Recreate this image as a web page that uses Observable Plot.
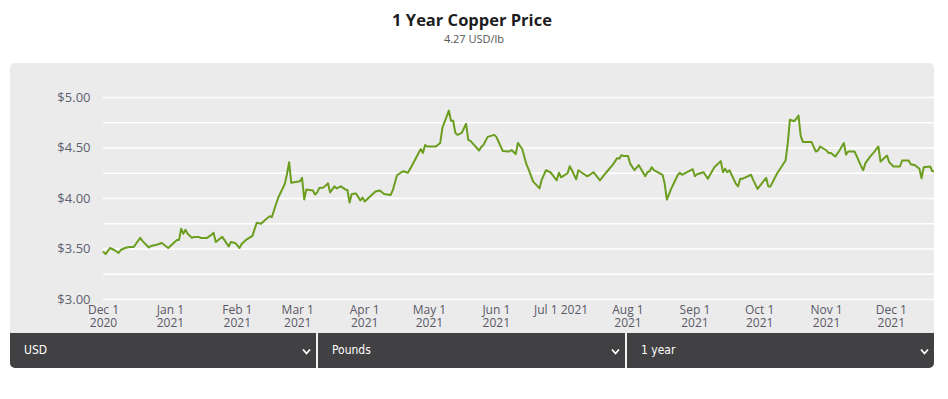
<!DOCTYPE html>
<html>
<head>
<meta charset="utf-8">
<script src="https://cdn.jsdelivr.net/npm/d3@7"></script>
<script src="https://cdn.jsdelivr.net/npm/@observablehq/plot@0.6"></script>
<style>
  html, body { margin: 0; padding: 0; background: #fff; }
  body { width: 948px; height: 399px; position: relative; font-family: "Open Sans", sans-serif; overflow: hidden; }
  #title { position: absolute; left: 0; top: 10px; width: 944px; text-align: center; font-size: 16.5px; font-weight: 700; color: #1d1d1f; line-height: 20px; }
  #subtitle { position: absolute; left: 0; top: 32px; width: 948px; text-align: center; font-size: 11px; color: #555; line-height: 14px; }
  #panel { position: absolute; left: 10px; top: 63px; width: 924px; height: 305px; background: #ebebeb; border-radius: 5px; overflow: hidden; }
  #chart { position: absolute; left: 0; top: 0; }
  #bar { position: absolute; left: 0; top: 270px; width: 924px; height: 35px; background: #414042; display: flex; }
  .sel { position: relative; height: 35px; color: #fff; font-family: "Liberation Sans Narrow", "DejaVu Sans Condensed", sans-serif; font-size: 12px; line-height: 35px; box-sizing: border-box; }
  .sel span.lab { position: absolute; left: 14px; }
  .sel svg.chev { position: absolute; right: 5px; top: 15px; }
  .sep { width: 2px; height: 35px; background: #f2f2f2; }
</style>
</head>
<body>
<div id="title">1 Year Copper Price</div>
<div id="subtitle">4.27 USD/lb</div>
<div id="panel">
  <div id="chart"></div>
  <div id="bar">
    <div class="sel" style="width:306px"><span class="lab">USD</span><svg class="chev" width="9" height="7"><path d="M1,1.5 L4.5,5.5 L8,1.5" fill="none" stroke="#fff" stroke-width="1.8"/></svg></div>
    <div class="sep"></div>
    <div class="sel" style="width:307px"><span class="lab">Pounds</span><svg class="chev" width="9" height="7"><path d="M1,1.5 L4.5,5.5 L8,1.5" fill="none" stroke="#fff" stroke-width="1.8"/></svg></div>
    <div class="sep"></div>
    <div class="sel" style="width:307px"><span class="lab">1 year</span><svg class="chev" width="9" height="7"><path d="M1,1.5 L4.5,5.5 L8,1.5" fill="none" stroke="#fff" stroke-width="1.8"/></svg></div>
  </div>
</div>
<script>
const dates = [
"2020-12-01","2020-12-02","2020-12-04","2020-12-06","2020-12-08","2020-12-09","2020-12-11","2020-12-13","2020-12-15","2020-12-18",
"2020-12-19","2020-12-22","2020-12-23","2020-12-26","2020-12-28","2020-12-31","2021-01-02","2021-01-04","2021-01-05","2021-01-06",
"2021-01-07","2021-01-08","2021-01-09","2021-01-11","2021-01-12","2021-01-14","2021-01-15","2021-01-18","2021-01-20","2021-01-21",
"2021-01-22","2021-01-25","2021-01-26","2021-01-28","2021-01-29","2021-01-31","2021-02-02","2021-02-03","2021-02-05","2021-02-08",
"2021-02-10","2021-02-12","2021-02-14","2021-02-16","2021-02-17","2021-02-19","2021-02-20","2021-02-23","2021-02-24","2021-02-25",
"2021-02-26","2021-03-02","2021-03-03","2021-03-04","2021-03-05","2021-03-08","2021-03-09","2021-03-10","2021-03-11","2021-03-13",
"2021-03-15","2021-03-16","2021-03-18","2021-03-19","2021-03-21","2021-03-23","2021-03-24","2021-03-25","2021-03-26","2021-03-28",
"2021-03-30","2021-03-31","2021-04-01","2021-04-03","2021-04-06","2021-04-08","2021-04-10","2021-04-13","2021-04-14","2021-04-16",
"2021-04-18","2021-04-19","2021-04-21","2021-04-23","2021-04-25","2021-04-27","2021-04-28","2021-04-29","2021-04-30","2021-05-03",
"2021-05-04","2021-05-06","2021-05-07","2021-05-10","2021-05-11","2021-05-12","2021-05-13","2021-05-14","2021-05-16","2021-05-18",
"2021-05-19","2021-05-20","2021-05-24","2021-05-25","2021-05-26","2021-05-28","2021-05-31","2021-06-01","2021-06-04","2021-06-07",
"2021-06-08","2021-06-10","2021-06-11","2021-06-12","2021-06-13","2021-06-15","2021-06-16","2021-06-18","2021-06-21","2021-06-22",
"2021-06-24","2021-06-26","2021-06-27","2021-06-29","2021-06-30","2021-07-01","2021-07-04","2021-07-05","2021-07-06","2021-07-08",
"2021-07-09","2021-07-13","2021-07-14","2021-07-16","2021-07-19","2021-07-22","2021-07-25","2021-07-27","2021-07-28","2021-07-29",
"2021-07-30","2021-08-01","2021-08-02","2021-08-04","2021-08-06","2021-08-09","2021-08-10","2021-08-11","2021-08-12","2021-08-13",
"2021-08-17","2021-08-18","2021-08-19","2021-08-21","2021-08-24","2021-08-25","2021-08-26","2021-08-31","2021-09-01","2021-09-02",
"2021-09-05","2021-09-07","2021-09-10","2021-09-13","2021-09-14","2021-09-15","2021-09-16","2021-09-17","2021-09-20","2021-09-21",
"2021-09-22","2021-09-23","2021-09-27","2021-09-28","2021-09-30","2021-10-04","2021-10-05","2021-10-06","2021-10-09","2021-10-13",
"2021-10-14","2021-10-15","2021-10-17","2021-10-18","2021-10-19","2021-10-20","2021-10-21","2021-10-25","2021-10-27","2021-10-28",
"2021-10-29","2021-11-01","2021-11-02","2021-11-03","2021-11-05","2021-11-07","2021-11-09","2021-11-10","2021-11-11","2021-11-14",
"2021-11-17","2021-11-18","2021-11-19","2021-11-21","2021-11-23","2021-11-25","2021-11-26","2021-11-29","2021-11-30","2021-12-02",
"2021-12-05","2021-12-06","2021-12-09","2021-12-10","2021-12-12","2021-12-14","2021-12-15","2021-12-16","2021-12-19","2021-12-20",
"2021-12-21"
];
const prices = [
3.47,3.45,3.51,3.49,3.46,3.49,3.51,3.52,3.52,3.61,
3.58,3.515,3.53,3.545,3.56,3.51,3.55,3.59,3.59,3.70,
3.65,3.69,3.65,3.61,3.62,3.62,3.61,3.61,3.64,3.66,
3.57,3.62,3.59,3.525,3.57,3.56,3.51,3.55,3.59,3.63,
3.76,3.75,3.79,3.825,3.815,3.95,4.01,4.145,4.24,4.36,
4.155,4.17,4.205,3.99,4.09,4.08,4.04,4.06,4.105,4.11,
4.15,4.06,4.12,4.10,4.12,4.09,4.085,3.96,4.045,4.05,
3.98,4.01,3.97,4.01,4.07,4.08,4.045,4.035,4.08,4.23,
4.26,4.27,4.255,4.33,4.41,4.49,4.45,4.53,4.515,4.515,
4.515,4.55,4.70,4.87,4.77,4.77,4.65,4.63,4.65,4.74,
4.58,4.57,4.475,4.51,4.53,4.61,4.63,4.61,4.47,4.465,
4.48,4.44,4.55,4.52,4.49,4.335,4.285,4.17,4.10,4.185,
4.28,4.26,4.235,4.18,4.255,4.21,4.25,4.32,4.28,4.19,
4.28,4.22,4.23,4.26,4.18,4.26,4.335,4.40,4.395,4.43,
4.42,4.42,4.345,4.28,4.33,4.22,4.26,4.27,4.31,4.28,
4.235,4.145,3.99,4.095,4.23,4.255,4.235,4.29,4.22,4.24,
4.26,4.195,4.31,4.37,4.26,4.295,4.26,4.28,4.145,4.12,
4.195,4.195,4.235,4.185,4.095,4.205,4.12,4.12,4.245,4.376,
4.54,4.78,4.765,4.79,4.82,4.62,4.56,4.56,4.465,4.475,
4.515,4.475,4.45,4.45,4.415,4.475,4.55,4.435,4.465,4.465,
4.32,4.28,4.35,4.41,4.46,4.515,4.366,4.425,4.36,4.317,
4.317,4.376,4.376,4.34,4.33,4.295,4.20,4.31,4.317,4.27,
4.27
];
const xTickDates = ["2020-12-01","2021-01-01","2021-02-01","2021-03-01","2021-04-01","2021-05-01","2021-06-01","2021-07-01","2021-08-01","2021-09-01","2021-10-01","2021-11-01","2021-12-01"];
const xTickLabels = ["Dec 1\n2020","Jan 1\n2021","Feb 1\n2021","Mar 1\n2021","Apr 1\n2021","May 1\n2021","Jun 1\n2021","Jul 1 2021","Aug 1\n2021","Sep 1\n2021","Oct 1\n2021","Nov 1\n2021","Dec 1\n2021"];
const yTicks = [3.00, 3.50, 4.00, 4.50, 5.00];
const yGrid = [3.00, 3.25, 3.50, 3.75, 4.00, 4.25, 4.50, 4.75, 5.00];

const data = dates.map((d, i) => ({date: new Date(d), price: prices[i]}));
const xt = xTickDates.map(d => new Date(d));

const chart = Plot.plot({
  width: 924,
  height: 270,
  marginLeft: 93,
  marginRight: 0,
  marginTop: 34,
  marginBottom: 34,
  style: {background: "transparent", fontFamily: "'Open Sans', sans-serif", overflow: "visible"},
  x: {type: "utc", domain: [new Date("2020-12-01"), new Date("2021-12-21")], label: null},
  y: {domain: [3, 5], label: null},
  marks: [
    Plot.gridY(yGrid, {stroke: "#ffffff", strokeOpacity: 1, strokeWidth: 1.6}),
    Plot.axisY(yTicks, {tickSize: 0, tickPadding: 13, fontSize: 13, fill: "#5b6272", label: null, tickFormat: d => "$" + d.toFixed(2)}),
    Plot.axisX(xt, {tickSize: 0, tickPadding: 5, fontSize: 12, lineHeight: 1.1, fill: "#5a5866", label: null, tickFormat: (d, i) => xTickLabels[i]}),
    Plot.lineY(data, {x: "date", y: "price", stroke: "#6b9e1f", strokeWidth: 2})
  ]
});
document.getElementById("chart").appendChild(chart);
</script>
</body>
</html>
